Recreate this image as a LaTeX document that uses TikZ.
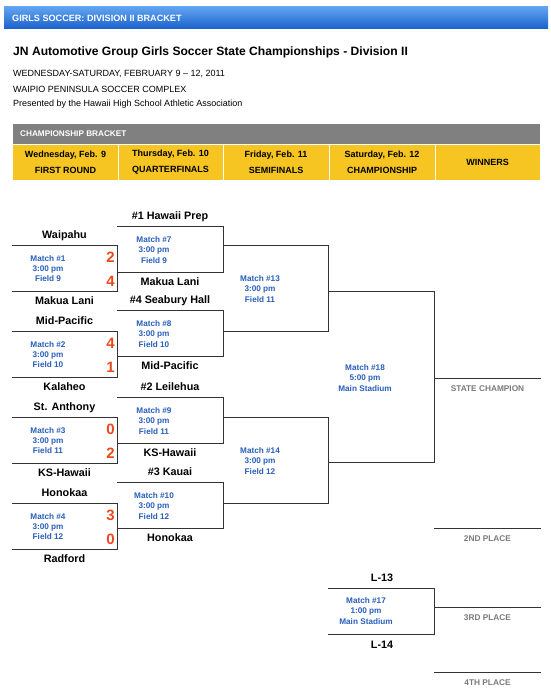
\documentclass[tikz,border=0pt]{standalone}
\usepackage{fontspec}
\setmainfont{Liberation Sans}
\usetikzlibrary{positioning}
\definecolor{barblue}{RGB}{26,96,204}
\definecolor{barlight}{RGB}{96,164,240}
\definecolor{bargray}{RGB}{128,128,128}
\definecolor{dayyellow}{RGB}{246,197,34}
\definecolor{infoblue}{RGB}{40,94,186}
\definecolor{scorered}{RGB}{236,72,30}
\definecolor{placegray}{RGB}{122,122,122}
\tikzset{
  bracket/.style={draw=black!80,line width=.8pt},
  team/.style={font=\bfseries\fontsize{10.8}{12}\selectfont,inner sep=0pt,text height=7.8pt,text depth=0pt},
  info/.style={font=\bfseries\fontsize{8.2}{10.4}\selectfont,text=infoblue,align=center,inner sep=0pt},
  score/.style={font=\bfseries\fontsize{15}{15}\selectfont,text=scorered,inner sep=0pt,text height=10.7pt,text depth=0pt},
  place/.style={font=\bfseries\fontsize{8.3}{10}\selectfont,text=placegray,inner sep=0pt,text height=6pt,text depth=0pt},
  day/.style={font=\bfseries\fontsize{9}{16}\selectfont,align=center,inner sep=0pt},
}

\begin{document}
\begin{tikzpicture}[x=1pt,y=-1pt]
\useasboundingbox (0,0) rectangle (550,700);
% page heading
\shade[top color=barlight,bottom color=barblue] (4,7) rectangle (548,29);
\node[anchor=west,text=white,font=\bfseries\fontsize{9.1}{10}\selectfont,inner sep=0pt,text height=6.5pt,text depth=0pt] (head) at (12,18) {GIRLS SOCCER: DIVISION II BRACKET};
\node[anchor=west,font=\bfseries\fontsize{12.1}{14}\selectfont,inner sep=0pt,text height=8.7pt,text depth=0pt] (title) at (13,51) {JN Automotive Group Girls Soccer State Championships - Division II};
\foreach \y/\line [count=\k] in {73/{WEDNESDAY-SATURDAY, FEBRUARY 9 -- 12, 2011},89/WAIPIO PENINSULA SOCCER COMPLEX,103/Presented by the Hawaii High School Athletic Association}
  \node[anchor=west,font=\fontsize{9}{10}\selectfont,inner sep=0pt,text height=6.5pt,text depth=0pt] (sub\k) at (13,\y) {\line};

% column heads
\fill[bargray] (13,124) rectangle (540,144);
\node[anchor=west,text=white,font=\bfseries\fontsize{8.2}{10}\selectfont,inner sep=0pt,text height=5.9pt,text depth=0pt] (cb) at (20,134) {CHAMPIONSHIP BRACKET};
\fill[dayyellow] (13,144) rectangle (540,180);
\draw[white,line width=.8pt] (13,144.4) -- (540,144.4);
\foreach \x in {118,223,329,435}
  \draw[white,line width=.8pt] (\x,144) -- (\x,180);
\foreach \x/\d [count=\k] in {65.5/{Wednesday, Feb. 9\\FIRST ROUND},170.5/{Thursday, Feb. 10\\QUARTERFINALS},276/{Friday, Feb. 11\\SEMIFINALS},382/{Saturday, Feb. 12\\CHAMPIONSHIP},487.5/WINNERS}
  \node[day] (day\k) at (\x,162.5) {\d};

% first round
\foreach \n/\y/\ta/\tb/\sa/\sb/\f in {1/245/Waipahu/Makua Lani/2/4/9,2/331/Mid-Pacific/Kalaheo/4/1/10,3/417/St. Anthony/KS-Hawaii/0/2/11,4/503/Honokaa/Radford/3/0/12}{
  \coordinate (m\n top) at (12,\y);
  \coordinate (m\n bot) at (12,\y+46);
  \draw[bracket] (m\n top) -- ++(105,0) |- (m\n bot);
  \node[team] (m\n a) at (64.5,\y-10) {\ta};
  \node[team] (m\n b) at (64.5,\y+56) {\tb};
  \node[score] (m\n sa) at (110.5,\y+12) {\sa};
  \node[score] (m\n sb) at (110.5,\y+36) {\sb};
  \node[info] (m\n) at (48,\y+23.5) {Match \#\n\\3:00 pm\\Field \f};
}

% quarterfinals
\foreach \n/\y/\ta/\tb/\f in {7/226/\#1 Hawaii Prep/Makua Lani/9,8/310/\#4 Seabury Hall/Mid-Pacific/10,9/397/\#2 Leilehua/KS-Hawaii/11,10/482/\#3 Kauai/Honokaa/12}{
  \coordinate (m\n top) at (117,\y);
  \coordinate (m\n bot) at (117,\y+46);
  \draw[bracket] (m\n top) -- ++(106,0) |- (m\n bot);
  \node[team] (m\n a) at (170,\y-10) {\ta};
  \node[team] (m\n b) at (170,\y+56) {\tb};
  \node[info] (m\n) at (154,\y+23.7) {Match \#\n\\3:00 pm\\Field \f};
}

% semifinals
\foreach \n/\y/\yb/\f in {13/245/331/11,14/417/503/12}{
  \coordinate (m\n top) at (223,\y);
  \coordinate (m\n bot) at (223,\yb);
  \draw[bracket] (m\n top) -- ++(105,0) |- (m\n bot);
  \node[info] (m\n) at (260,\y/2+\yb/2+0.7) {Match \#\n\\3:00 pm\\Field \f};
}

% championship and third place
\coordinate (m18 top) at (328,291);
\coordinate (m18 bot) at (328,462);
\draw[bracket] (m18 top) -- ++(106,0) |- (m18 bot);
\node[info] (m18) at (365,377.7) {Match \#18\\5:00 pm\\Main Stadium};
\coordinate (m17 top) at (328,588);
\coordinate (m17 bot) at (328,634);
\draw[bracket] (m17 top) -- ++(106,0) |- (m17 bot);
\node[team] (l13) at (382,578) {L-13};
\node[team] (l14) at (382,645) {L-14};
\node[info] (m17) at (366,611) {Match \#17\\1:00 pm\\Main Stadium};

% winners
\foreach \y/\txt [count=\k] in {378/STATE CHAMPION,528/2ND PLACE,607/3RD PLACE,672/4TH PLACE}{
  \coordinate (w\k a) at (434,\y);
  \coordinate (w\k b) at (541,\y);
  \draw[bracket] (w\k a) -- (w\k b);
  \node[place] (w\k) at (487.5,\y+10) {\txt};
}
\end{tikzpicture}
\end{document}
